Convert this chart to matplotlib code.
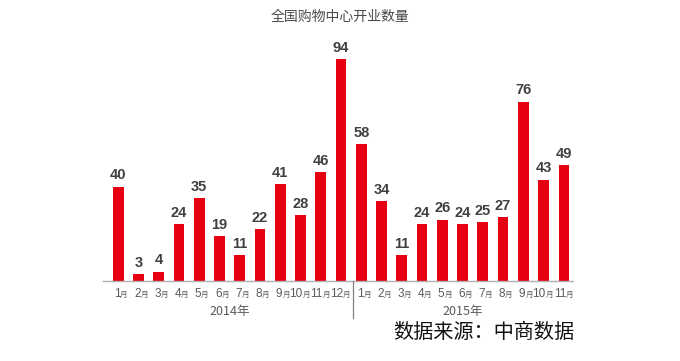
import matplotlib
matplotlib.use('Agg')
import matplotlib.pyplot as plt

plt.rcParams['font.family'] = ['Noto Sans CJK SC', 'DejaVu Sans']

months_2014 = [1, 2, 3, 4, 5, 6, 7, 8, 9, 10, 11, 12]
values_2014 = [40, 3, 4, 24, 35, 19, 11, 22, 41, 28, 46, 94]
months_2015 = [1, 2, 3, 4, 5, 6, 7, 8, 9, 10, 11]
values_2015 = [58, 34, 11, 24, 26, 24, 25, 27, 76, 43, 49]
years = ['2014年', '2015年']
title = '全国购物中心开业数量'
source = '数据来源：中商数据'

months = months_2014 + months_2015
values = values_2014 + values_2015
xs = list(range(len(values)))

red = '#E60012'
gray = '#595959'

fig = plt.figure(figsize=(6.8, 3.61), dpi=100)
# baseline at y=281px, plot area ~ 103..573 px
ax = fig.add_axes([103 / 680, 80 / 361, 470 / 680, 236 / 361])
ax.bar(xs, values, width=0.53, color=red, zorder=2)
ax.set_xlim(-0.75, len(values) - 0.55)
ax.set_ylim(0, 100)

for s in ['top', 'right', 'left']:
    ax.spines[s].set_visible(False)
ax.spines['bottom'].set_color('#b0b0b0')
ax.spines['bottom'].set_linewidth(1.0)
ax.set_yticks([])
ax.set_xticks([])

for x, v in zip(xs, values):
    ax.annotate(str(v), (x, v), xytext=(0, 3), textcoords='offset points',
                ha='center', va='bottom', fontsize=10.5, fontweight='bold',
                color='#404040', family=['Liberation Sans', 'DejaVu Sans'])

# month labels: number plus small 月
for x, m in zip(xs, months):
    ax.annotate(str(m), (x, 0), xytext=(1.5, -5), textcoords='offset points',
                ha='right', va='top', fontsize=8.5, color=gray,
                family=['Liberation Sans', 'DejaVu Sans'], annotation_clip=False)
    ax.annotate('月', (x, 0), xytext=(1.5, -7), textcoords='offset points',
                ha='left', va='top', fontsize=5.5, color=gray, annotation_clip=False)

# year labels and separator
n14 = len(values_2014)
ax.annotate(years[0], ((n14 - 1) / 2, 0), xytext=(0, -17), textcoords='offset points',
            ha='center', va='top', fontsize=9, color=gray, annotation_clip=False)
ax.annotate(years[1], (n14 + (len(values_2015) - 1) / 2, 0), xytext=(0, -17),
            textcoords='offset points', ha='center', va='top', fontsize=9,
            color=gray, annotation_clip=False)
ax.plot([n14 - 0.42, n14 - 0.42], [0, -15.5], color='#808080', lw=0.9,
        clip_on=False, zorder=3)

fig.text(340 / 680, 1 - 17 / 361, title, ha='center', va='center',
         fontsize=10, color='#4a4a4a')
fig.text(484 / 680, 1 - 333 / 361, source, ha='center', va='center',
         fontsize=14.5, color='#111111')

fig.savefig('out.png', dpi=100)
